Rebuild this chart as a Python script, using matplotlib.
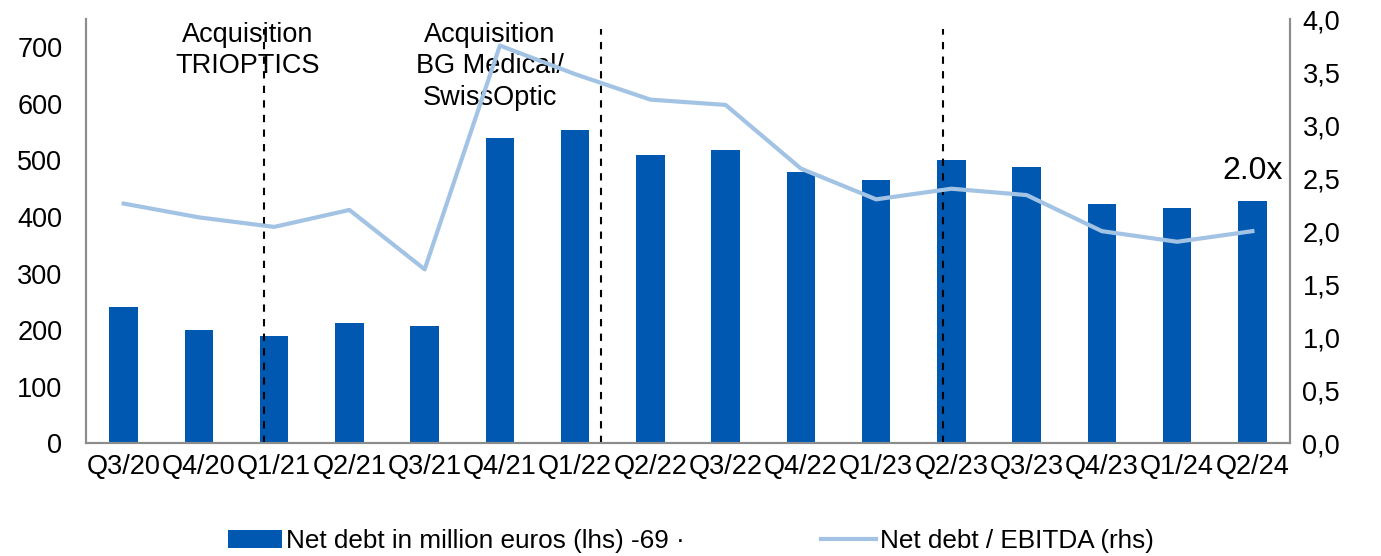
import matplotlib
matplotlib.use("Agg")
import matplotlib.pyplot as plt
from matplotlib.ticker import FuncFormatter

plt.rcParams['font.family'] = ['Liberation Sans', 'DejaVu Sans']

quarters = ["Q3/20", "Q4/20", "Q1/21", "Q2/21", "Q3/21", "Q4/21", "Q1/22", "Q2/22",
            "Q3/22", "Q4/22", "Q1/23", "Q2/23", "Q3/23", "Q4/23", "Q1/24", "Q2/24"]
net_debt = [241, 200, 189, 213, 208, 540, 554, 510, 519, 479, 466, 500, 488, 423, 416, 429]
leverage = [2.26, 2.13, 2.04, 2.20, 1.64, 3.75, 3.48, 3.24, 3.19, 2.59, 2.30, 2.40, 2.34, 2.00, 1.90, 2.00]

# acquisitions / events (x position in category units)
events = [1.87, 6.35, 10.89]
notes = [(1.65, "Acquisition\nTRIOPTICS"), (4.87, "Acquisition\nBG Medical/\nSwissOptic")]

bar_color = "#0058B1"
line_color = "#A3C3E5"
spine_color = "#8C8C8C"
size = 19.5

fig = plt.figure(figsize=(13.81, 5.56), dpi=100)
ax1 = fig.add_axes([0.0623, 0.2027, 0.8718, 0.7631])
ax2 = ax1.twinx()

x = list(range(len(quarters)))
b = ax1.bar(x, net_debt, width=0.38, color=bar_color, zorder=2,
            label="Net debt in million euros (lhs) -69 \u00b7")
l, = ax2.plot(x, leverage, color=line_color, lw=3, zorder=3,
              label="Net debt / EBITDA (rhs)")

ax1.set_xlim(-0.5, len(quarters) - 0.5)
ax1.set_ylim(0, 750)
ax2.set_ylim(0, 4)
ax1.set_yticks(range(0, 701, 100))
ax2.set_yticks([i * 0.5 for i in range(9)])
ax2.yaxis.set_major_formatter(FuncFormatter(lambda v, p: f"{v:.1f}".replace(".", ",")))

ax1.set_xticks(x)
ax1.set_xticklabels(quarters)
ax1.tick_params(axis='x', length=0, pad=8, labelsize=size)
ax1.tick_params(axis='y', length=0, pad=17, labelsize=size)
ax2.tick_params(axis='y', length=0, pad=9, labelsize=size)

for ax in (ax1, ax2):
    ax.spines['top'].set_visible(False)
    for s in ('left', 'right', 'bottom'):
        ax.spines[s].set_color(spine_color)
        ax.spines[s].set_linewidth(1.5)
ax1.set_zorder(ax2.get_zorder() - 1)
ax1.patch.set_visible(False)

for ev in events:
    ax1.plot([ev, ev], [0, 732], color="black", lw=1.5, ls=(0, (3.5, 3.5)), zorder=4)

for nx, txt in notes:
    ax1.text(nx, 745, txt, ha='center', va='top', fontsize=size, linespacing=1.28, zorder=5)

ax2.text(15, 2.57, "2.0x", ha='center', va='center', fontsize=23)

fig.legend([b, l], [b.get_label(), l.get_label()], loc='center', ncol=2,
           bbox_to_anchor=(0.5, 0.027), frameon=False, fontsize=18.8,
           handlelength=2.1, handletextpad=0.15, columnspacing=5.2)

fig.savefig("out.png", dpi=100)
